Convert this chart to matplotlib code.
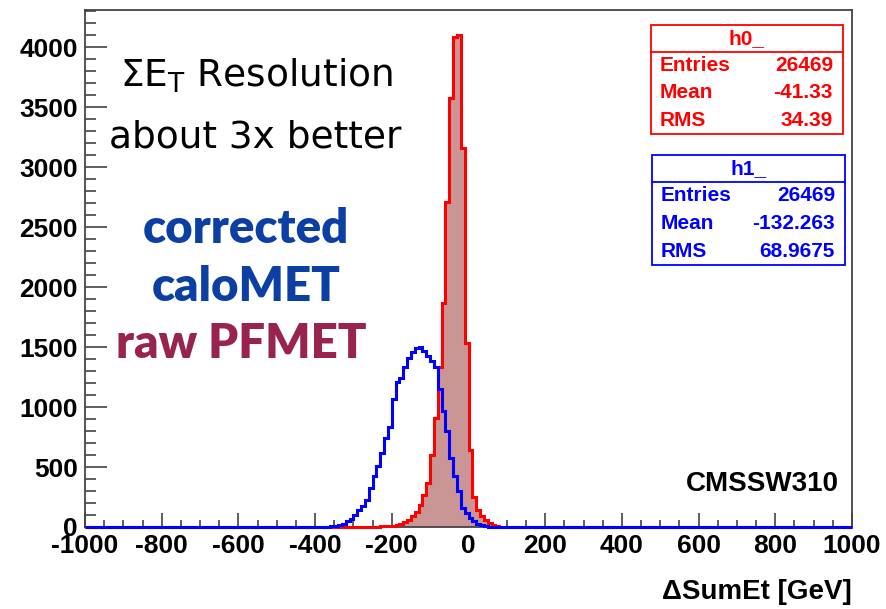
import numpy as np
import matplotlib
matplotlib.use("Agg")
import matplotlib.pyplot as plt
from matplotlib.patches import Rectangle
from matplotlib.lines import Line2D

# ---------------- data ----------------
bin_width = 10
x_min, x_max = -1000, 1000

# raw PFMET (h0_) : counts per 10 GeV bin, starting at red_start
red_start = -260
red_counts = [2, 3, 4, 5, 7, 9, 12, 18, 27, 42, 60, 90, 125, 185, 270, 365,
              600, 905, 1335, 1865, 2710, 3580, 4085, 4105, 3160, 1530, 640,
              250, 140, 90, 55, 30, 15, 8, 4]

# corrected caloMET (h1_) : counts per 10 GeV bin, starting at blue_start
blue_start = -370
blue_counts = [3, 5, 8, 17, 28, 50, 64, 100, 139, 175, 222, 328, 425, 508, 620,
               744, 833, 1064, 1205, 1245, 1330, 1410, 1455, 1490, 1500, 1467,
               1425, 1383, 1330, 1147, 967, 800, 578, 425, 300, 161, 119, 78,
               50, 28, 14, 6, 3, 1]

x_ticks = [-1000, -800, -600, -400, -200, 0, 200, 400, 600, 800, 1000]
y_ticks = [0, 500, 1000, 1500, 2000, 2500, 3000, 3500, 4000]

stat_names = ["Entries", "Mean", "RMS"]
h0_stats = ["26469", "-41.33", "34.39"]
h1_stats = ["26469", "-132.263", "68.9675"]

# ---------------- build full histograms ----------------
edges = np.arange(x_min, x_max + bin_width, bin_width)
nb = len(edges) - 1
red_full = np.zeros(nb)
i0 = int((red_start - x_min) // bin_width)
red_full[i0:i0 + len(red_counts)] = red_counts
blue_full = np.zeros(nb)
j0 = int((blue_start - x_min) // bin_width)
blue_full[j0:j0 + len(blue_counts)] = blue_counts

# ---------------- figure ----------------
W, H = 886, 609
fig = plt.figure(figsize=(W / 100, H / 100), dpi=100)
fig.patch.set_facecolor("white")

def fx(px):
    return px / W

def fy(py):
    return 1 - py / H

ax = fig.add_axes([fx(85), fy(527), fx(852) - fx(85), fy(10) - fy(527)])

ax.stairs(red_full, edges, fill=True, color="#c99595", zorder=2)
ax.stairs(red_full, edges, color="#ff0000", lw=2.2, zorder=3, clip_on=False)
ax.stairs(blue_full, edges, color="#0000ff", lw=2.2, zorder=4, clip_on=False)

ax.set_xlim(x_min, x_max)
ax.set_ylim(0, 1.05 * max(red_counts))

tickfont = dict(family="Liberation Sans", weight="bold", size=19)
ax.set_xticks(x_ticks)
ax.set_xticklabels([str(v) for v in x_ticks], **tickfont)
ax.set_yticks(y_ticks)
ax.set_yticklabels([str(v) for v in y_ticks], **tickfont)
ax.set_xticks(np.arange(x_min, x_max + 1, 50), minor=True)
ax.set_yticks(np.arange(0, 4301, 100), minor=True)

ax.tick_params(axis="x", which="major", direction="in", length=10.4, width=1.1,
               color="#333333", pad=5)
ax.tick_params(axis="x", which="minor", direction="in", length=5.2, width=1.1,
               color="#333333")
ax.tick_params(axis="y", which="major", direction="in", length=15.8, width=1.1,
               color="#333333", pad=5)
ax.tick_params(axis="y", which="minor", direction="in", length=7.9, width=1.1,
               color="#333333")
for s in ax.spines.values():
    s.set_color("#444444")
    s.set_linewidth(1.3)

fig.text(fx(852), fy(599), "\u0394SumEt [GeV]", ha="right", va="baseline",
         family="Liberation Sans", weight="bold", size=20)

fig.text(fx(839), fy(491), "CMSSW310", ha="right", va="baseline",
         family="Liberation Sans", weight="bold", size=20)

# ---------------- stats boxes ----------------
def stat_box(x0, x1, y0, ysep, y1, title, vals, color):
    rect = Rectangle((fx(x0), fy(y1)), fx(x1) - fx(x0), fy(y0) - fy(y1),
                     transform=fig.transFigure, facecolor="white",
                     edgecolor=color, lw=1.3, zorder=10)
    fig.patches.append(rect)
    fig.lines.append(Line2D([fx(x0), fx(x1)], [fy(ysep), fy(ysep)],
                            transform=fig.transFigure, color=color, lw=1.3,
                            zorder=11))
    sfont = dict(family="Liberation Sans", weight="bold", size=15, color=color,
                 zorder=12)
    fig.text(fx((x0 + x1) / 2), fy((y0 + ysep) / 2), title, ha="center",
             va="center", **sfont)
    rows = np.linspace(ysep, y1, len(vals) + 1)
    for k, (nm, v) in enumerate(zip(stat_names, vals)):
        yc = (rows[k] + rows[k + 1]) / 2
        fig.text(fx(x0 + 9), fy(yc), nm, ha="left", va="center", **sfont)
        fig.text(fx(x1 - 10), fy(yc), v, ha="right", va="center", **sfont)

stat_box(651, 843, 25, 52, 134, "h0_", h0_stats, "#ff0000")
stat_box(652, 845, 155, 182, 265, "h1_", h1_stats, "#0000ff")

# ---------------- annotations ----------------
plt.rcParams["mathtext.fontset"] = "custom"
plt.rcParams["mathtext.rm"] = "DejaVu Sans"
hand = dict(family="DejaVu Sans", size=27, color="black")
fig.text(fx(120), fy(87), r"$\mathrm{\Sigma E_T}$ Resolution", ha="left",
         va="baseline", **hand)
fig.text(fx(109), fy(147), "about 3x better", ha="left", va="baseline", **hand)

big = dict(family="Lato", weight="heavy", size=34, ha="center", va="baseline")
fig.text(fx(246), fy(243), "corrected", color="#0b3fa3", **big)
fig.text(fx(246), fy(301), "caloMET", color="#0b3fa3", **big)
fig.text(fx(241), fy(358), "raw PFMET", color="#98234f", **big)

fig.savefig("out.png", dpi=100, facecolor="white")
